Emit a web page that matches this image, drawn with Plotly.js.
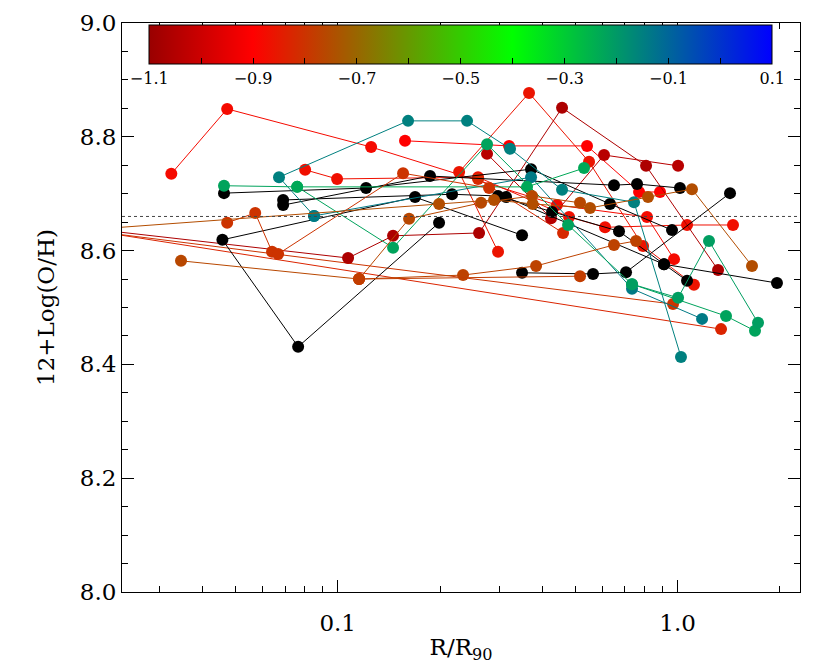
<!DOCTYPE html>
<html>
<head>
<meta charset="utf-8">
<script src="https://cdn.plot.ly/plotly-3.0.1.min.js"></script>
<style>
body { margin: 0; background: #fff; }
#chart { width: 830px; height: 664px; }
</style>
</head>
<body>
<div id="chart"></div>
<script>
// colour value of each galaxy on the colour bar (null = black)
const galMetal = [-0.88, -0.90, -0.87, -0.86, -0.82, -0.80, -0.83, -1.06, -1.04,
    null, null, null, null, null, null,
    -0.15, -0.14, -0.22, -0.23, -0.21,
    -0.80, -0.76, -0.75, -0.77, -0.78];

// R/R90 of the HII regions, one list per galaxy
const galR = [
    [0.0324, 0.0473, 0.1254, 0.4418, 0.8128, 0.9759],
    [0.1578, 0.3192, 0.5414, 0.7702, 0.8876],
    [0.0802, 0.0996, 0.2588, 0.4794, 0.6116, 1.066, 1.455],
    [0.2963, 0.2276, 0.3655, 0.5488, 0.7913, 1.117],
    [0.2588, 0.4602],
    [0.016, 0.9694],
    [0.016, 1.342],
    [0.016, 0.1073, 0.1455, 0.2606, 0.4571, 0.8075, 1.315],
    [0.2750, 0.4242, 0.6075, 1.003],
    [0.0463, 0.1212, 0.3705, 0.6326, 0.9627],
    [0.1987, 0.0765, 0.0458, 0.1689, 0.3486],
    [0.0691, 0.2170, 0.2963, 0.4272, 0.6723, 0.9120, 1.066],
    [0.0691, 0.1869, 0.6499, 0.7597, 1.016],
    [0.3486, 0.5639, 0.7050, 1.426],
    [0.3128, 0.9120, 1.960],
    [0.0852, 0.0672, 0.1611, 0.2402, 0.3214, 0.4571, 0.7443, 1.023],
    [0.0852, 0.3705, 0.7342, 1.180],
    [0.0463, 0.0760, 0.1455, 0.2750, 0.4761, 0.7342, 1.388, 1.689],
    [0.0760, 0.3606, 0.5305],
    [0.7342, 1.003, 1.237, 1.724],
    [0.0473, 0.0572, 0.0641, 0.0668, 0.1557, 0.2788],
    [0.0346, 0.1156, 0.1622, 0.2641, 0.3731, 0.5163],
    [0.016, 0.1987, 0.2884, 0.3746, 0.5525, 0.8183, 1.102, 1.655],
    [0.1156, 0.2338, 0.3833, 0.6499, 0.7545],
    [0.1156, 0.5163]
];

// 12+log(O/H) of the same regions
const galOH = [
    [8.735, 8.849, 8.782, 8.680, 8.659, 8.585],
    [8.793, 8.784, 8.784, 8.703, 8.703],
    [8.742, 8.726, 8.729, 8.659, 8.641, 8.645, 8.645],
    [8.598, 8.738, 8.877, 8.756, 8.608, 8.540],
    [8.726, 8.631],
    [8.640, 8.506],
    [8.642, 8.462],
    [8.643, 8.587, 8.626, 8.631, 8.851, 8.749, 8.566],
    [8.770, 8.657, 8.768, 8.749],
    [8.701, 8.710, 8.743, 8.682, 8.636],
    [8.649, 8.431, 8.619, 8.694, 8.627],
    [8.689, 8.699, 8.696, 8.668, 8.634, 8.576, 8.547],
    [8.680, 8.731, 8.715, 8.717, 8.710],
    [8.561, 8.559, 8.562, 8.701],
    [8.694, 8.576, 8.543],
    [8.661, 8.729, 8.828, 8.828, 8.779, 8.707, 8.685, 8.413],
    [8.661, 8.729, 8.533, 8.480],
    [8.714, 8.712, 8.605, 8.787, 8.645, 8.541, 8.485, 8.459],
    [8.712, 8.712, 8.745],
    [8.541, 8.517, 8.617, 8.473],
    [8.649, 8.666, 8.598, 8.594, 8.736, 8.710],
    [8.582, 8.550, 8.656, 8.684, 8.696, 8.684],
    [8.634, 8.682, 8.689, 8.682, 8.675, 8.694, 8.708, 8.573],
    [8.550, 8.557, 8.573, 8.610, 8.617],
    [8.550, 8.555]
];

const cbTicks = [-1.1, -1.0, -0.9, -0.8, -0.7, -0.6, -0.5, -0.4, -0.3, -0.2, -0.1, 0.0, 0.1];
const cbLabels = ['\u22121.1', ' ', '\u22120.9', ' ', '\u22120.7', ' ', '\u22120.5', ' ', '\u22120.3', ' ', '\u22120.1', ' ', '0.1'];
const xMinor = [0.03, 0.04, 0.05, 0.06, 0.07, 0.08, 0.09, 0.2, 0.3, 0.4, 0.5, 0.6, 0.7, 0.8, 0.9, 2.0];
const solarOH = 8.66;

const cMin = -1.1, cMax = 0.1;
const scale = [[0, '#990000'], [1 / 6, '#ff0000'], [7 / 12, '#00ff00'], [1, '#0000ff']];

// lines cannot use a colorscale, so look the colour up by hand
function lineColor(v) {
    var f = (v - cMin) / (cMax - cMin);
    for (var i = 1; i < scale.length; i++) {
        if (f <= scale[i][0]) {
            var t = (f - scale[i - 1][0]) / (scale[i][0] - scale[i - 1][0]);
            var a = hex(scale[i - 1][1]), b = hex(scale[i][1]);
            return 'rgb(' + a.map((c, k) => Math.round(c + (b[k] - c) * t)).join(',') + ')';
        }
    }
    return scale[scale.length - 1][1];
    function hex(h) {
        return [1, 3, 5].map(k => parseInt(h.substr(k, 2), 16));
    }
}

const serif = 'DejaVu Serif, serif';
var traces = [];
var first = true;
for (let g = 0; g < galR.length; g++) {
    const v = galMetal[g];
    var marker = {size: 12};
    var col;
    if (v === null) {
        col = 'black';
        marker.color = 'black';
    } else {
        col = lineColor(v);
        marker.color = galR[g].map(() => v);
        marker.colorscale = scale;
        marker.cmin = cMin;
        marker.cmax = cMax;
        if (first) {
            first = false;
            marker.showscale = true;
            marker.colorbar = {
                orientation: 'h',
                x: 0.4996, xanchor: 'center',
                y: 0.9965, yanchor: 'top',
                lenmode: 'pixels', len: 623,
                thickness: 39,
                xpad: 0, ypad: 0,
                outlinewidth: 1, outlinecolor: 'black',
                tickmode: 'array', tickvals: cbTicks, ticktext: cbLabels,
                ticks: 'inside', ticklen: 6, tickcolor: 'black',
                tickfont: {family: serif, size: 16, color: 'black'}
            };
        }
    }
    traces.push({
        x: galR[g],
        y: galOH[g],
        mode: 'lines+markers',
        line: {color: col, width: 1},
        marker: marker,
        cliponaxis: true,
        showlegend: false,
        hoverinfo: 'skip'
    });
}

var layout = {
    width: 830,
    height: 664,
    margin: {l: 122, r: 30, t: 23, b: 72},
    paper_bgcolor: 'white',
    plot_bgcolor: 'white',
    showlegend: false,
    xaxis: {
        type: 'log',
        range: [Math.log10(0.0232), 0.36],
        tickmode: 'array', tickvals: [0.1, 1], ticktext: ['0.1', '1.0'],
        ticks: 'inside', ticklen: 12, tickcolor: 'black', tickwidth: 1,
        minor: {tickmode: 'array', tickvals: xMinor, ticks: 'inside', ticklen: 6, tickcolor: 'black'},
        mirror: 'allticks', showline: true, linecolor: 'black', linewidth: 1,
        showgrid: false, zeroline: false,
        ticklabelstandoff: 10,
        tickfont: {family: serif, size: 23, color: 'black'},
        title: {text: 'R/R<sub>90</sub>', font: {family: serif, size: 23, color: 'black'}, standoff: 20}
    },
    yaxis: {
        range: [8.0, 9.0],
        dtick: 0.2, tickformat: '.1f',
        ticks: 'inside', ticklen: 12, tickcolor: 'black', tickwidth: 1,
        minor: {dtick: 0.05, ticks: 'inside', ticklen: 6, tickcolor: 'black'},
        mirror: 'allticks', showline: true, linecolor: 'black', linewidth: 1,
        showgrid: false, zeroline: false,
        tickfont: {family: serif, size: 23, color: 'black'},
        title: {text: '12+Log(O/H)', font: {family: serif, size: 23, color: 'black'}, standoff: 18}
    },
    shapes: [{
        type: 'line', xref: 'paper', x0: 0, x1: 1, yref: 'y', y0: solarOH, y1: solarOH,
        line: {color: '#444', width: 1, dash: 'dot'}
    }]
};

Plotly.newPlot('chart', traces, layout, {displayModeBar: false, staticPlot: true});
</script>
</body>
</html>
